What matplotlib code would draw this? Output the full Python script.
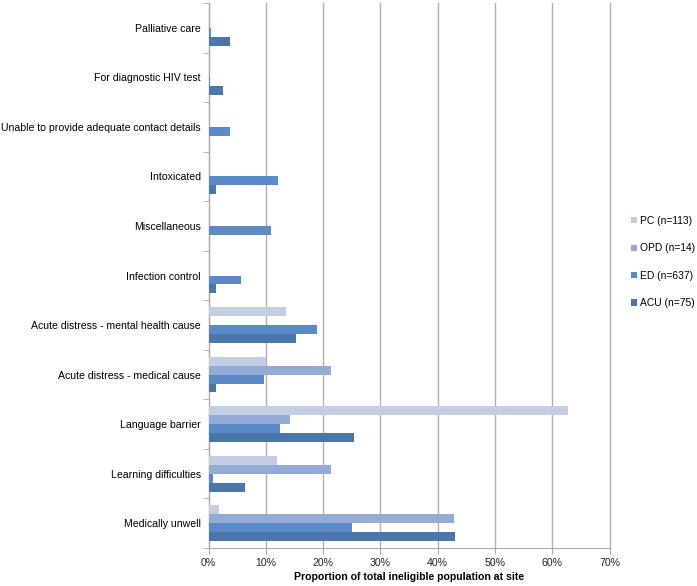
import matplotlib
matplotlib.use("Agg")
import matplotlib.pyplot as plt
import numpy as np

plt.rcParams['font.family'] = ['Liberation Sans', 'DejaVu Sans']

categories = ["Medically unwell", "Learning difficulties", "Language barrier",
              "Acute distress - medical cause", "Acute distress - mental health cause",
              "Infection control", "Miscellaneous", "Intoxicated",
              "Unable to provide adequate contact details", "For diagnostic HIV test",
              "Palliative care"]
series = ["PC (n=113)", "OPD (n=14)", "ED (n=637)", "ACU (n=75)"]
pc  = [1.8, 11.9, 62.8, 10.1, 13.6, 0, 0, 0, 0, 0, 0]
opd = [42.9, 21.4, 14.3, 21.4, 0, 0, 0, 0, 0, 0, 0]
ed  = [25.0, 0.8, 12.5, 9.7, 19.0, 5.7, 10.9, 12.1, 3.7, 0.3, 0.35]
acu = [43.0, 6.4, 25.4, 1.3, 15.2, 1.3, 0, 1.3, 0, 2.6, 3.8]
colors = ["#c3cee3", "#93abd5", "#5b8bc6", "#4a76a9"]

fig = plt.figure(figsize=(6.97, 5.86), dpi=100)
ax = fig.add_axes([208.5/697, 38/586, 401/697, 545/586])

y = np.arange(len(categories))
h = 0.18
offsets = [1.5*h, 0.5*h, -0.5*h, -1.5*h]
for vals, off, c, lab in zip([pc, opd, ed, acu], offsets, colors, series):
    ax.barh(y + off, vals, height=h, color=c, label=lab, zorder=3)

fs = 7.6
ax.set_xlim(0, 70)
ax.set_ylim(-0.5, len(categories) - 0.5)
ax.set_xticks(np.arange(0, 71, 10))
ax.set_xticklabels([f"{v}%" for v in range(0, 71, 10)], fontsize=fs, color="#222222")
ax.set_yticks(y)
ax.set_yticklabels(categories, fontsize=fs)
ax.tick_params(axis='y', length=0, pad=5.5)
ax.set_yticks(np.arange(-0.5, len(categories), 1), minor=True)
ax.tick_params(axis='y', which='minor', length=4, color="#aaaaaa", direction='out')
ax.tick_params(axis='x', length=4, color="#aaaaaa", direction='out', pad=3)
ax.grid(axis='x', color="#b0b0b0", linewidth=1, zorder=0)
for gl in ax.get_xgridlines():
    gl.set_clip_on(False)
for s in ['top', 'right']:
    ax.spines[s].set_visible(False)
for s in ['left', 'bottom']:
    ax.spines[s].set_color("#aaaaaa")
ax.set_xlabel("Proportion of total ineligible population at site", fontsize=fs,
              fontweight='bold', labelpad=3)

handles, labels = ax.get_legend_handles_labels()
leg = fig.legend(handles, labels, loc='center left', bbox_to_anchor=(631/697, 1 - 262/586),
                 frameon=False, fontsize=7.4, handlelength=0.55, handleheight=0.55,
                 handletextpad=0.3, labelspacing=1.69, borderpad=0, borderaxespad=0)

fig.savefig("out.png", dpi=100)
